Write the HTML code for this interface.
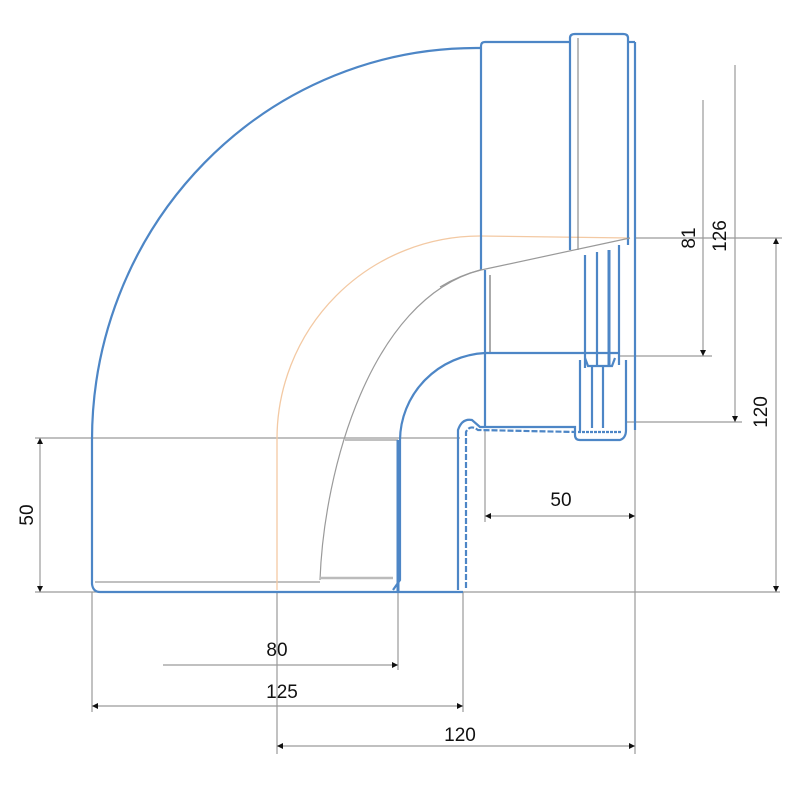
<!DOCTYPE html>
<html><head><meta charset="utf-8"><style>html,body{margin:0;padding:0;background:#fff}svg{display:block}</style></head>
<body>
<svg width="800" height="800" viewBox="0 0 800 800" xmlns="http://www.w3.org/2000/svg" font-family="Liberation Sans, sans-serif">
<defs>
<marker id="a" viewBox="0 0 10 10" refX="10" refY="5" markerWidth="12" markerHeight="6" orient="auto-start-reverse" markerUnits="userSpaceOnUse"><path d="M0,0 L10,5 L0,10 z" fill="#111"/></marker>
</defs>
<g fill="none" stroke="#9a9a9a" stroke-width="1.2">
<line x1="35" y1="438" x2="460" y2="438"/>
<line x1="35" y1="592" x2="780" y2="592"/>
<line x1="92" y1="592" x2="92" y2="712"/>
<line x1="463" y1="592" x2="463" y2="712"/>
<line x1="398" y1="592" x2="398" y2="670"/>
<line x1="277" y1="592" x2="277" y2="754"/>
<line x1="635" y1="430" x2="635" y2="754"/>
<line x1="485" y1="430" x2="485" y2="522"/>
<line x1="620" y1="356" x2="712" y2="356"/>
<line x1="625" y1="422" x2="742" y2="422"/>
<line x1="635" y1="238" x2="782" y2="238"/>
<line x1="40" y1="438" x2="40" y2="592" marker-start="url(#a)" marker-end="url(#a)"/>
<line x1="163" y1="665" x2="398" y2="665" marker-end="url(#a)"/>
<line x1="92" y1="706" x2="463" y2="706" marker-start="url(#a)" marker-end="url(#a)"/>
<line x1="277" y1="746" x2="635" y2="746" marker-start="url(#a)" marker-end="url(#a)"/>
<line x1="485" y1="516" x2="635" y2="516" marker-start="url(#a)" marker-end="url(#a)"/>
<line x1="703" y1="100" x2="703" y2="356" marker-end="url(#a)"/>
<line x1="735" y1="65" x2="735" y2="422" marker-end="url(#a)"/>
<line x1="776" y1="238" x2="776" y2="592" marker-start="url(#a)" marker-end="url(#a)"/>
<path d="M320,580 C324,470 370,300 480,270"/>
<line x1="320" y1="578" x2="393" y2="578" stroke-width="2.5" stroke="#bbb"/>
<line x1="95" y1="582" x2="320" y2="582"/>
<line x1="345" y1="440" x2="398" y2="440"/>
</g>
<path d="M277,590 L277,440 A203,203 0 0 1 480,236 L630,238" fill="none" stroke="#f3c9a3" stroke-width="1.3"/>
<g fill="none" stroke="#4d86c6" stroke-width="2.2">
<path d="M480,48 L476,48 A384,392 0 0 0 92,440 L92,584 Q93,592 100,592 L463,592"/>
<path d="M481,270 L481,46 Q481,42 485,42 L570,42"/>
<path d="M570,250 L570,38 Q570,34 575,34 L623,34 Q628,34 628,38 L628,245"/>
<line x1="628" y1="42" x2="635" y2="42"/>
<line x1="635" y1="42" x2="635" y2="430"/>
<line x1="578" y1="38" x2="578" y2="250" stroke="#777" stroke-width="1"/>
<line x1="485" y1="270" x2="485" y2="427"/>
<line x1="490" y1="275" x2="490" y2="352" stroke="#555" stroke-width="1"/>
<path d="M393,590 L400,580 L400,440 A90,88 0 0 1 485,353 L620,353"/>
<path d="M398,592 L398,440" stroke-width="3"/>
<path d="M458,590 L458,430 Q462,418 472,420 L480,427 L575,427 L575,435 Q575,440 580,440 L620,440 Q626,438 626,430 L626,360"/>
<path d="M466,588 L466,432 Q470,424 478,430 L576,432" stroke-dasharray="6,2"/>
<line x1="585" y1="255" x2="585" y2="368"/>
<line x1="597" y1="252" x2="597" y2="365"/>
<line x1="609" y1="250" x2="609" y2="365" stroke-width="3"/>
<line x1="619" y1="245" x2="619" y2="365"/>
<path d="M585,358 L588,366 L612,366 L615,358"/>
<line x1="580" y1="360" x2="580" y2="432"/>
<line x1="592" y1="366" x2="592" y2="428"/>
<line x1="603" y1="366" x2="603" y2="428"/>
<line x1="578" y1="432" x2="622" y2="432" stroke-dasharray="3,1"/>
</g>
<path d="M440,287 Q460,275 481,270 L630,238" fill="none" stroke="#999" stroke-width="1.2"/>
<g fill="#111" font-size="19">
<text x="28" y="515" text-anchor="middle" transform="rotate(-90 28 515)" dominant-baseline="middle">50</text>
<text x="277" y="656" text-anchor="middle">80</text>
<text x="282" y="698" text-anchor="middle">125</text>
<text x="460" y="741" text-anchor="middle">120</text>
<text x="561" y="506" text-anchor="middle">50</text>
<text x="690" y="238" text-anchor="middle" transform="rotate(-90 690 238)" dominant-baseline="middle">81</text>
<text x="721" y="236" text-anchor="middle" transform="rotate(-90 721 236)" dominant-baseline="middle">126</text>
<text x="762" y="412" text-anchor="middle" transform="rotate(-90 762 412)" dominant-baseline="middle">120</text>
</g>
</svg>
</body></html>
